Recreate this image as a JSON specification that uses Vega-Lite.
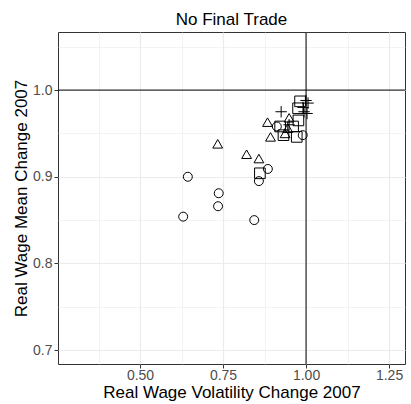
{
  "$schema": "https://vega.github.io/schema/vega-lite/v6.json",
  "width": 347,
  "height": 332,
  "autosize": {"type": "none"},
  "padding": {"left": 58, "top": 32, "right": 6, "bottom": 40},
  "background": "white",
  "title": {"text": "No Final Trade", "font": "Liberation Sans", "fontSize": 17, "fontWeight": "normal", "color": "black", "anchor": "middle", "baseline": "bottom", "offset": 3, "dy": 17, "frame": "group"},
  "config": {
    "view": {"stroke": "#333333", "strokeWidth": 1},
    "axis": {"labelFont": "Liberation Sans", "titleFont": "Liberation Sans", "labelFontSize": 14, "titleFontSize": 17, "titleFontWeight": "normal", "labelColor": "#4D4D4D", "titleColor": "black", "domain": false, "tickColor": "#333333", "tickSize": 4, "gridColor": "#EBEBEB"}
  },
  "datasets": {
    "pts": [
      {"vol": 0.630, "mean": 0.854, "g": "circle"},
      {"vol": 0.644, "mean": 0.900, "g": "circle"},
      {"vol": 0.737, "mean": 0.881, "g": "circle"},
      {"vol": 0.735, "mean": 0.866, "g": "circle"},
      {"vol": 0.844, "mean": 0.850, "g": "circle"},
      {"vol": 0.885, "mean": 0.909, "g": "circle"},
      {"vol": 0.858, "mean": 0.895, "g": "circle"},
      {"vol": 0.912, "mean": 0.958, "g": "circle"},
      {"vol": 0.990, "mean": 0.948, "g": "circle"},
      {"vol": 0.734, "mean": 0.938, "g": "triangle"},
      {"vol": 0.821, "mean": 0.926, "g": "triangle"},
      {"vol": 0.858, "mean": 0.921, "g": "triangle"},
      {"vol": 0.884, "mean": 0.963, "g": "triangle"},
      {"vol": 0.893, "mean": 0.946, "g": "triangle"},
      {"vol": 0.949, "mean": 0.968, "g": "triangle"},
      {"vol": 0.945, "mean": 0.956, "g": "triangle"},
      {"vol": 0.937, "mean": 0.950, "g": "triangle"},
      {"vol": 0.861, "mean": 0.904, "g": "square"},
      {"vol": 0.922, "mean": 0.958, "g": "square"},
      {"vol": 0.932, "mean": 0.948, "g": "square"},
      {"vol": 0.972, "mean": 0.946, "g": "square"},
      {"vol": 0.976, "mean": 0.979, "g": "square"},
      {"vol": 0.977, "mean": 0.965, "g": "square"},
      {"vol": 0.961, "mean": 0.958, "g": "square"},
      {"vol": 0.982, "mean": 0.987, "g": "square"},
      {"vol": 0.925, "mean": 0.975, "g": "cross"},
      {"vol": 1.000, "mean": 0.988, "g": "cross"},
      {"vol": 1.006, "mean": 0.985, "g": "cross"},
      {"vol": 0.994, "mean": 0.975, "g": "cross"},
      {"vol": 0.991, "mean": 0.980, "g": "cross"},
      {"vol": 0.949, "mean": 0.960, "g": "cross"},
      {"vol": 1.003, "mean": 0.973, "g": "cross"}
    ],
    "ref": [{"v": 1}]
  },
  "layer": [
    {
      "data": {"name": "pts"},
      "mark": {"type": "point", "filled": false, "color": "black", "strokeWidth": 1, "opacity": 1},
      "encoding": {
        "x": {"field": "vol", "type": "quantitative", "title": "Real Wage Volatility Change 2007",
          "scale": {"domain": [0.253, 1.298], "nice": false, "zero": false},
          "axis": {"values": [0.375, 0.5, 0.625, 0.75, 0.875, 1, 1.125, 1.25],
            "labelExpr": "abs(datum.value*4-round(datum.value*4))<0.001 ? format(datum.value,'.2f') : ''",
            "tickOpacity": {"condition": {"test": "abs(datum.value*4-round(datum.value*4))<0.001", "value": 1}, "value": 0},
            "gridWidth": {"condition": {"test": "abs(datum.value*4-round(datum.value*4))<0.001", "value": 1.2}, "value": 0.6},
            "labelPadding": 0, "titlePadding": 2}},
        "y": {"field": "mean", "type": "quantitative", "title": "Real Wage Mean Change 2007",
          "scale": {"domain": [0.684, 1.067], "nice": false, "zero": false},
          "axis": {"values": [0.7, 0.75, 0.8, 0.85, 0.9, 0.95, 1.0, 1.05],
            "labelExpr": "abs(datum.value*10-round(datum.value*10))<0.001 ? format(datum.value,'.1f') : ''",
            "tickOpacity": {"condition": {"test": "abs(datum.value*10-round(datum.value*10))<0.001", "value": 1}, "value": 0},
            "gridWidth": {"condition": {"test": "abs(datum.value*10-round(datum.value*10))<0.001", "value": 1.2}, "value": 0.6},
            "labelPadding": 2, "titlePadding": 2}},
        "shape": {"field": "g", "type": "nominal", "legend": null,
          "scale": {"domain": ["circle", "triangle", "square", "cross"], "range": ["circle", "triangle-up", "square", "M-1,0H1M0,-1V1"]}},
        "size": {"field": "g", "type": "nominal", "legend": null,
          "scale": {"domain": ["circle", "triangle", "square", "cross"], "range": [80, 130, 100, 150]}}
      }
    },
    {
      "data": {"name": "ref"},
      "mark": {"type": "rule", "color": "black", "strokeWidth": 1},
      "encoding": {"x": {"field": "v", "type": "quantitative"}}
    },
    {
      "data": {"name": "ref"},
      "mark": {"type": "rule", "color": "black", "strokeWidth": 1},
      "encoding": {"y": {"field": "v", "type": "quantitative"}}
    }
  ]
}
